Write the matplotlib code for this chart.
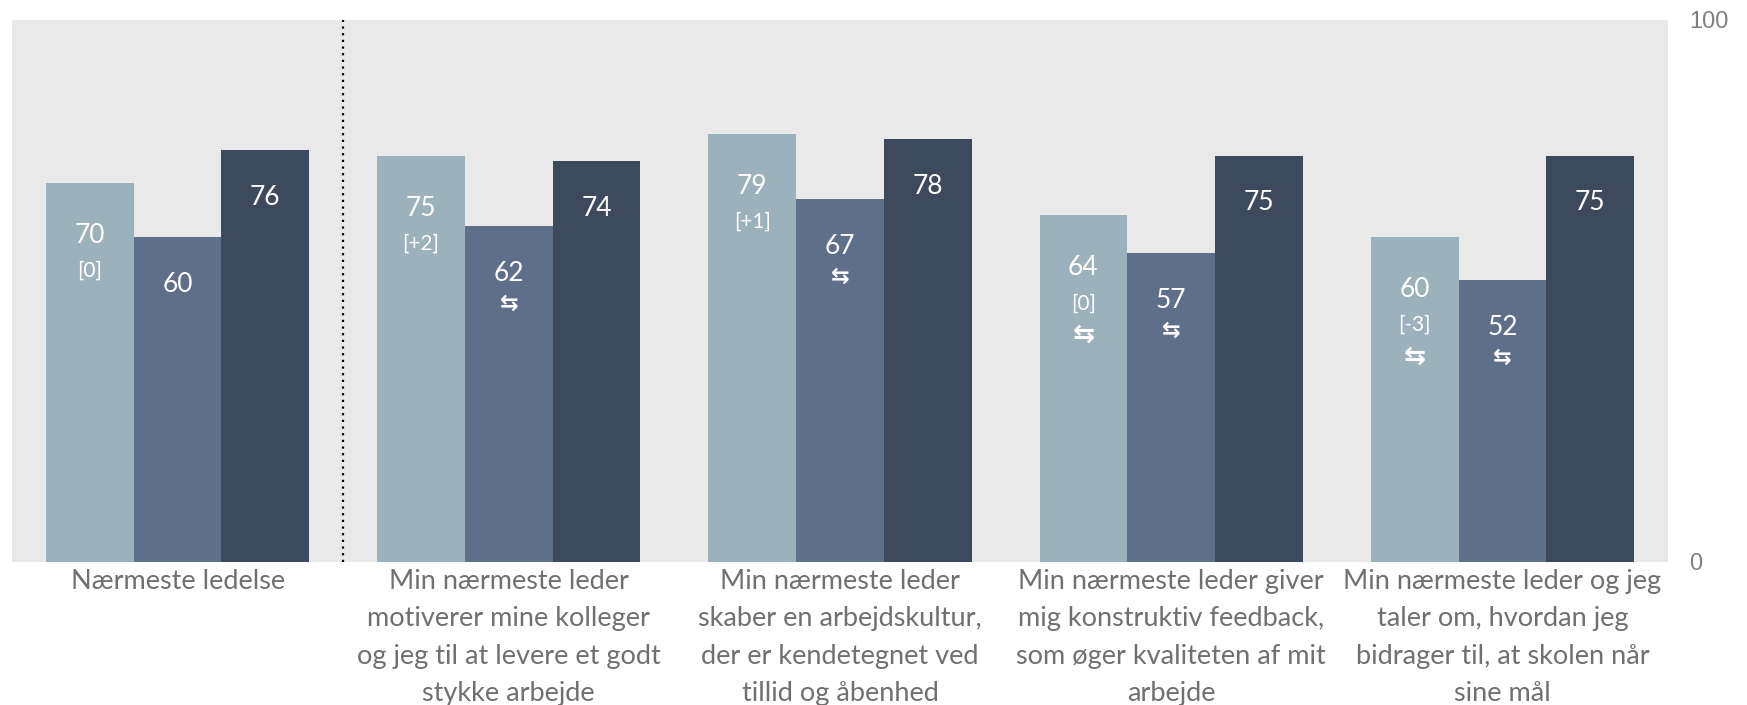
import numpy as np
import matplotlib.pyplot as plt

# data
categories = [
    "Nærmeste ledelse",
    "Min nærmeste leder\nmotiverer mine kolleger\nog jeg til at levere et godt\nstykke arbejde",
    "Min nærmeste leder\nskaber en arbejdskultur,\nder er kendetegnet ved\ntillid og åbenhed",
    "Min nærmeste leder giver\nmig konstruktiv feedback,\nsom øger kvaliteten af mit\narbejde",
    "Min nærmeste leder og jeg\ntaler om, hvordan jeg\nbidrager til, at skolen når\nsine mål",
]
serie1 = [70, 75, 79, 64, 60]
serie2 = [60, 62, 67, 57, 52]
serie3 = [76, 74, 78, 75, 75]
change1 = ["[0]", "[+2]", "[+1]", "[0]", "[-3]"]
arrow1 = [False, False, False, True, True]
arrow2 = [False, True, True, True, True]
arrow3 = [False, False, False, False, False]

colors = ["#9bb1bc", "#5e6f8a", "#3d4a5e"]
W, H = 1747, 705

fig = plt.figure(figsize=(W / 100, H / 100), dpi=100)
ax = fig.add_axes([12 / W, (H - 562) / H, 1656 / W, 542 / H])
ax.set_facecolor("#e9e9e9")

x = np.arange(len(categories))
bw = 0.265
fam = ["Lato", "DejaVu Sans"]

for k, (vals, arr) in enumerate([(serie1, arrow1), (serie2, arrow2), (serie3, arrow3)]):
    xs = x + (k - 1) * bw
    ax.bar(xs, vals, width=bw, color=colors[k], zorder=2)
    for i in range(len(vals)):
        has_br = (k == 0)
        off = -38 if has_br else -34
        ax.annotate(str(vals[i]), (xs[i], vals[i]), xytext=(0, off), textcoords="offset points",
                    ha="center", va="center", color="white", fontsize=19, family=fam)
        if has_br:
            off -= 25.5
            ax.annotate(change1[i], (xs[i], vals[i]), xytext=(0, off), textcoords="offset points",
                        ha="center", va="center", color="white", fontsize=15, family=fam)
            aoff = off - 22.5
        else:
            aoff = off - 22
        if arr[i]:
            ax.annotate("\u21c6", (xs[i], vals[i]), xytext=(0, aoff), textcoords="offset points",
                        ha="center", va="center", color="white", fontweight="bold",
                        fontsize=19 if k == 0 else 16, family=["DejaVu Sans"])

ax.axvline(0.5, color="black", ls=(0, (1, 2)), lw=1.6, zorder=3)

ax.set_xlim(-0.5, len(categories) - 0.5)
ax.set_ylim(0, 100)
ax.set_xticks(x)
ax.set_xticklabels(categories, fontsize=19.5, color="#707070", family=fam, linespacing=1.62, va="top")
ax.yaxis.tick_right()
ax.set_yticks([0, 100])
ax.set_yticklabels(["0", "100"], fontsize=17, color="#808080", family="Liberation Sans")
ax.tick_params(axis="both", length=0)
ax.tick_params(axis="x", pad=5)
ax.tick_params(axis="y", pad=15)
for s in ax.spines.values():
    s.set_visible(False)

fig.savefig("out.png", dpi=100)
